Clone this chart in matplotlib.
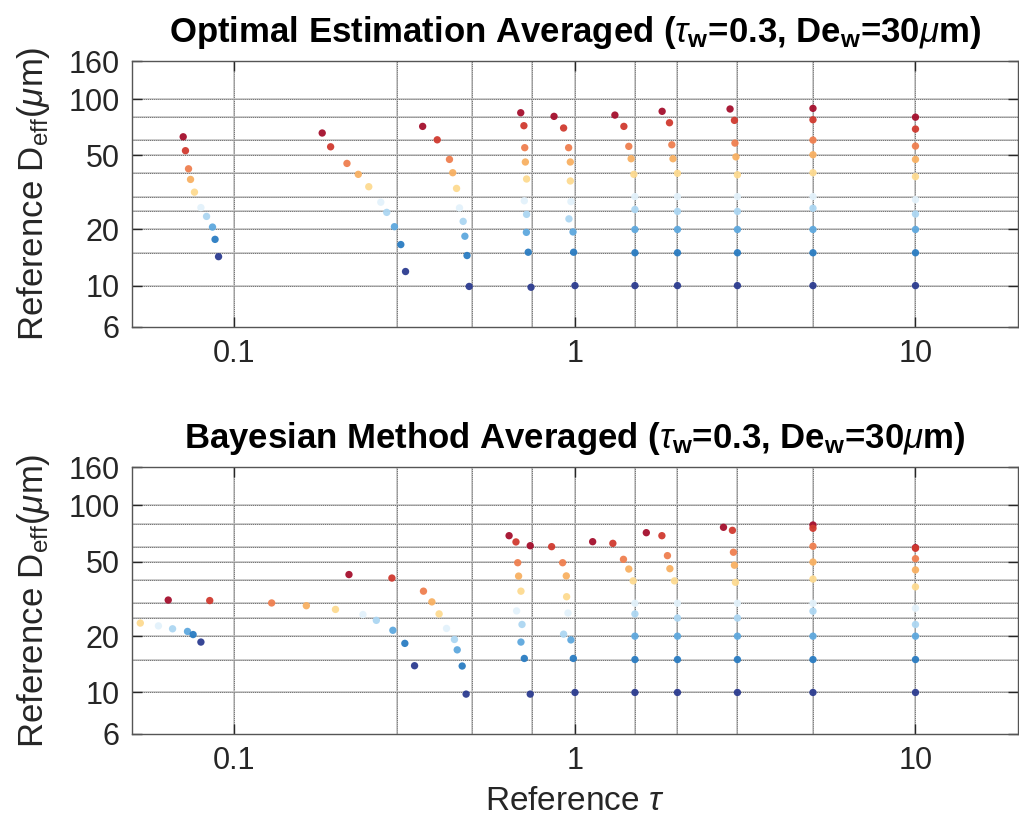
import numpy as np
import matplotlib
matplotlib.use("Agg")
import matplotlib.pyplot as plt

plt.rcParams['font.family'] = ['Liberation Sans', 'DejaVu Sans']
plt.rcParams['mathtext.fontset'] = 'custom'
plt.rcParams['mathtext.rm'] = 'Liberation Sans'
plt.rcParams['mathtext.it'] = 'Liberation Sans:italic'
plt.rcParams['mathtext.bf'] = 'Liberation Sans:bold'

# reference tau columns, and Deff levels (dark red -> navy)
tau_ref = [0.1, 0.3, 0.5, 0.75, 1, 1.5, 2, 3, 5, 10]
level_colors = ['#a50f2d', '#d03a2f', '#ef7f4f', '#f8b062', '#fdda90',
                '#e3f2fb', '#acd6f2', '#5ea8de', '#2a7cc2', '#2c3c90']

# optimal estimation: estimated (tau, Deff) per reference column, one per level
opt_tau = [
    [0.0707, 0.0718, 0.0733, 0.0743, 0.0763, 0.0797, 0.0828, 0.0862, 0.0877, 0.0898],
    [0.181, 0.1916, 0.214, 0.231, 0.248, 0.269, 0.280, 0.295, 0.308, 0.318],
    [0.357, 0.394, 0.428, 0.4375, 0.449, 0.458, 0.4695, 0.475, 0.482, 0.489],
    [0.693, 0.708, 0.712, 0.715, 0.721, 0.710, 0.721, 0.720, 0.729, 0.743],
    [0.868, 0.926, 0.958, 0.969, 0.969, 0.973, 0.960, 0.987, 0.991, 1.0],
    [1.31, 1.392, 1.439, 1.462, 1.489, 1.5, 1.5, 1.5, 1.5, 1.5],
    [1.803, 1.895, 1.925, 1.94, 2.0, 2, 2, 2, 2, 2],
    [2.854, 2.94, 2.95, 2.97, 3.0, 3, 3, 3, 3, 3],
    [5, 5, 5, 5, 5, 5, 5, 5, 5, 5],
    [10, 10, 10, 10, 10, 10, 10, 10, 10, 10],
]
opt_deff = [
    [62.8, 52.9, 42.3, 37.1, 31.7, 26.2, 23.5, 20.6, 17.7, 14.3],
    [65.8, 55.5, 45.2, 39.5, 33.9, 28.0, 24.7, 20.7, 16.6, 11.9],
    [71.4, 60.5, 47.5, 40.3, 33.2, 26.1, 22.1, 18.4, 14.5, 9.9],
    [84.5, 72.0, 54.9, 46.0, 37.3, 28.5, 24.1, 19.3, 15.1, 9.8],
    [80.8, 70.0, 54.9, 46.0, 36.4, 28.2, 22.8, 19.4, 15.1, 10.0],
    [82.1, 71.4, 55.8, 47.9, 39.5, 30, 25.6, 20, 15, 10],
    [86.0, 74.7, 56.9, 47.9, 40.0, 30, 25, 20, 15, 10],
    [88.5, 76.9, 58.1, 49.0, 39.3, 30, 25, 20, 15, 10],
    [89.2, 77.5, 60.3, 50.3, 40.3, 30, 26, 20, 15, 10],
    [80.0, 69.1, 56.0, 47.5, 38.4, 28.9, 24.2, 20, 15, 10],
]

# bayesian method (nan = not visible in range)
nan = np.nan
bay_tau = [
    [0.0639, 0.0846, nan, nan, 0.0529, 0.0598, 0.0658, 0.0728, 0.0756, 0.0797],
    [nan, nan, 0.1286, 0.1626, 0.198, 0.2384, 0.261, 0.2919, 0.3165, 0.338],
    [0.2169, 0.29, 0.359, 0.38, 0.399, 0.4195, 0.4426, 0.451, 0.4664, 0.479],
    [0.6405, 0.671, 0.679, 0.683, 0.694, 0.674, 0.699, 0.694, 0.710, 0.739],
    [0.739, 0.854, 0.920, 0.943, 0.945, 0.954, 0.926, 0.973, 0.989, 1.0],
    [1.127, 1.292, 1.388, 1.439, 1.482, 1.5, 1.5, 1.5, 1.5, 1.5],
    [1.62, 1.80, 1.869, 1.90, 1.96, 2, 2, 2, 2, 2],
    [2.73, 2.9, 2.92, 2.94, 2.96, 3, 3, 3, 3, 3],
    [5, 5, 5, 5, 5, 5, 5, 5, 5, 5],
    [10, 10, 10, 10, 10, 10, 10, 10, 10, 10],
]
bay_deff = [
    [31.2, 31.0, nan, nan, 23.5, 22.7, 21.9, 21.2, 20.4, 18.6],
    [nan, nan, 30.1, 29.1, 27.8, 26.1, 24.3, 21.5, 18.3, 13.9],
    [42.7, 40.9, 34.8, 30.5, 26.3, 22.0, 19.2, 16.9, 13.85, 9.8],
    [68.9, 63.8, 49.4, 41.9, 34.8, 27.3, 23.1, 18.6, 15.2, 9.8],
    [60.9, 60.2, 49.4, 42.0, 32.5, 26.6, 20.5, 19.1, 15.2, 10.0],
    [64.0, 62.7, 51.5, 45.7, 39.5, 30, 26.3, 20, 15, 10],
    [71.5, 68.9, 53.9, 45.9, 39.5, 30, 25, 20, 15, 10],
    [76.4, 73.6, 56.2, 47.9, 38.8, 30, 25, 20, 15, 10],
    [78.6, 75.5, 60.5, 49.8, 40.4, 30, 27.2, 20, 15, 10],
    [59.5, 59.0, 51.9, 45.2, 36.7, 28.2, 23.1, 20, 15, 10],
]

x_ticks = [0.1, 1, 10]
y_ticks = [6, 10, 20, 50, 100, 160]
y_grid = [10, 15, 20, 25, 30, 40, 50, 60, 80, 100]

titles = [r'Optimal Estimation Averaged ($\tau_{\mathbf{w}}$=0.3, De$_{\mathbf{w}}$=30$\mu$m)',
          r'Bayesian Method Averaged ($\tau_{\mathbf{w}}$=0.3, De$_{\mathbf{w}}$=30$\mu$m)']


def draw_panel(ax, tau_est, deff_est, title):
    for xg in tau_ref:
        ax.axvline(xg, color='#c4c4c4', lw=1.2, zorder=0)
        ax.axvline(xg, color='#333333', lw=0.7, ls=(0, (1, 1)), alpha=0.6, zorder=0)
    for yg in y_grid:
        ax.axhline(yg, color='#c4c4c4', lw=1.2, zorder=0)
        ax.axhline(yg, color='#333333', lw=0.7, ls=(0, (1, 1)), alpha=0.6, zorder=0)
    t = np.array(tau_est)
    d = np.array(deff_est)
    for lev in range(len(level_colors)):
        ax.scatter(t[:, lev], d[:, lev], s=28, color=level_colors[lev],
                   edgecolors='none', alpha=0.95, zorder=3)
    ax.set_xscale('log')
    ax.set_yscale('log')
    ax.set_xlim(0.05, 20)
    ax.set_ylim(6, 160)
    ax.set_xticks(x_ticks)
    ax.set_xticklabels(['0.1', '1', '10'])
    ax.set_yticks(y_ticks)
    ax.set_yticklabels([str(v) for v in y_ticks])
    ax.minorticks_off()
    ax.tick_params(direction='in', length=7, width=1, top=True, right=True,
                   labelsize=22, colors='#262626', pad=9)
    for sp in ax.spines.values():
        sp.set_color('#555555')
        sp.set_linewidth(1)
    ax.set_ylabel(r'Reference D$_{\rm eff}$($\mu$m)', fontsize=25, color='#262626', labelpad=12)
    ax.set_title(title, fontsize=25, fontweight='bold', pad=14)


fig = plt.figure(figsize=(10.19, 8.27), dpi=100)
ax1 = fig.add_axes([0.1295, 0.6046, 0.8695, 0.3216])
ax2 = fig.add_axes([0.1295, 0.1125, 0.8695, 0.3225])
draw_panel(ax1, opt_tau, opt_deff, titles[0])
draw_panel(ax2, bay_tau, bay_deff, titles[1])
ax2.set_xlabel(r'Reference $\tau$', fontsize=24, color='#262626', labelpad=7)

fig.savefig('out.png', dpi=100)
